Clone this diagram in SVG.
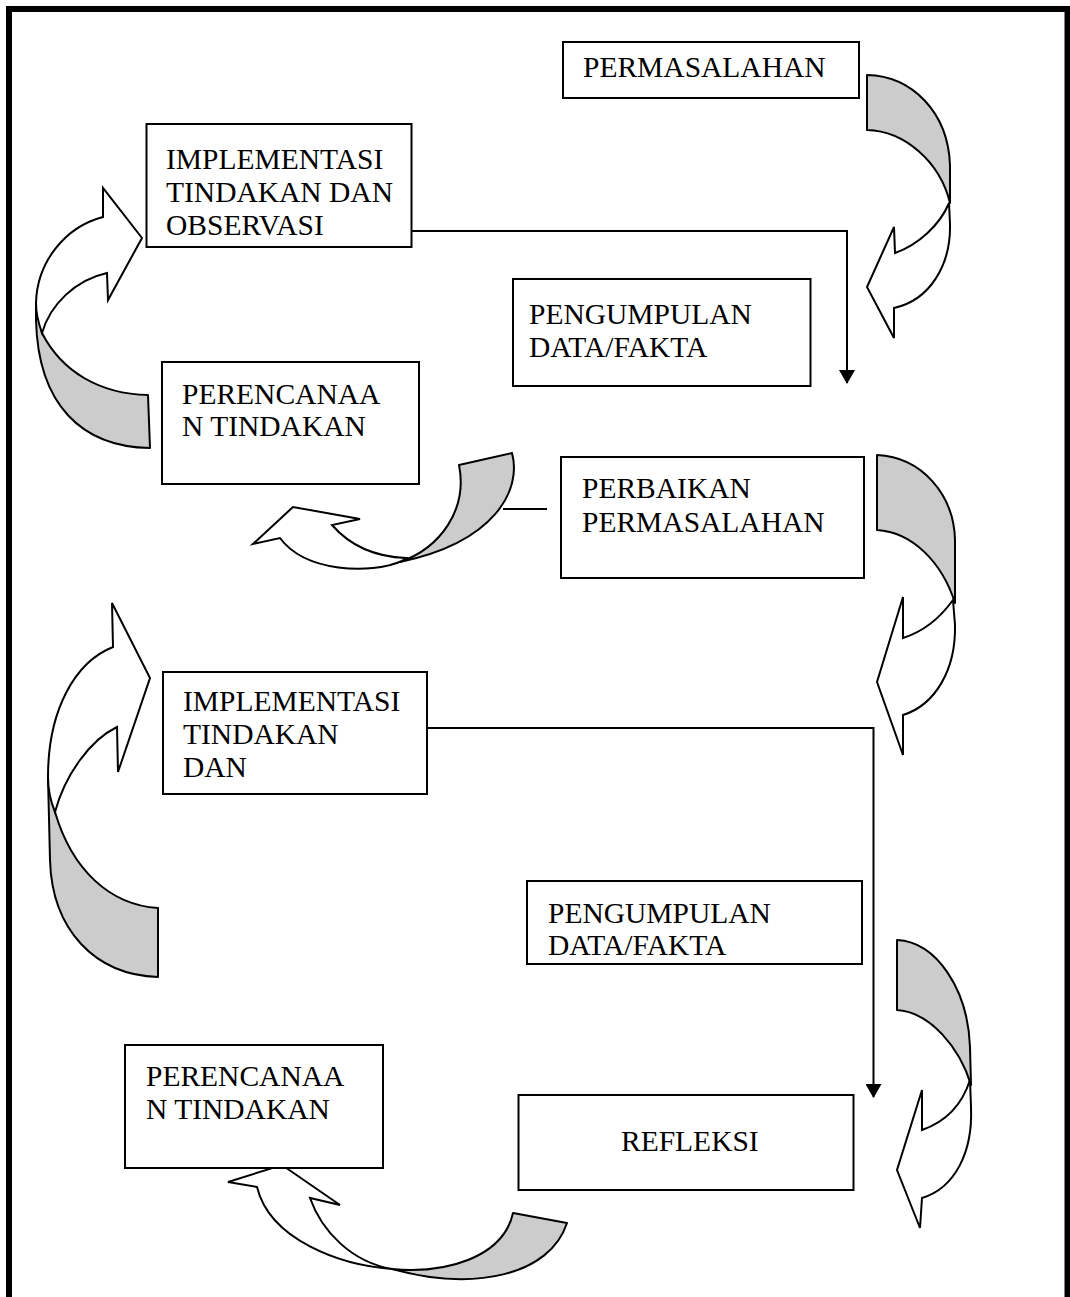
<svg xmlns="http://www.w3.org/2000/svg" width="1070" height="1297" viewBox="0 0 1070 1297">
<style>
.box{fill:#fff;stroke:#000;stroke-width:2}
.t{font-family:"Liberation Serif","Times New Roman",serif;font-size:29.5px;fill:#000}
.con{fill:none;stroke:#000;stroke-width:2}
.back{fill:#cccccc;stroke:#000;stroke-width:2;stroke-linejoin:round}
.front{fill:#fff;stroke:#000;stroke-width:2;stroke-linejoin:miter}
</style>
<defs>
<marker id="arr" markerUnits="userSpaceOnUse" viewBox="0 0 14 16" markerWidth="14" markerHeight="16" refX="13" refY="8" orient="auto">
<path d="M0,0 L14,8 L0,16 Z" fill="#000"/>
</marker>
</defs>
<rect x="0" y="0" width="1070" height="1297" fill="#fff"/>
<rect id="frame" x="9" y="9" width="1058.5" height="1310" fill="none" stroke="#000" stroke-width="6"/>

<g id="connectors">
<path class="con" d="M412,231 H847 V383" marker-end="url(#arr)"/>
<path class="con" d="M427,728 H873.5 V1097" marker-end="url(#arr)"/>
<path class="con" d="M503,509 H547"/>
</g>

<g id="curved-arrows">
<g id="arrowA">
<path class="back" d="M867,75 C912,76 948,112 950,165 L950,203 C940,162 905,131 867,130 Z"/>
<path class="front" d="M949,203 C940,225 918,245 895,253 L894,227 L867,287 L894,338 L894,308 C930,300 951,265 950,224 Z"/>
</g>
<g id="arrowB">
<path class="back" d="M42,333 C62,372 100,394 148,395 L150,448 C82,447 38,405 36,320 L36,303 Z"/>
<path class="front" d="M103,217 L103,188 L142,238 L108,300 L107,273 C75,280 50,305 42,333 C38,322 36,312 36,303 C37,262 65,227 103,217 Z"/>
</g>
<g id="arrowC">
<path class="back" d="M459,465 L512,453 C522,490 495,542 400,562 C440,548 468,510 459,465 Z"/>
<path class="front" d="M402,561 C370,575 305,572 280,538 L253,544 L293,507 L360,519 L332,525 C352,548 380,557 406,558 Z"/>
</g>
<g id="arrowD">
<path class="back" d="M877,455 C922,457 954,495 955,540 L955,603 C942,562 912,532 877,530 Z"/>
<path class="front" d="M953,600 C940,618 922,632 903,638 L903,597 L877,682 L903,755 L903,715 C935,705 956,670 955,625 Z"/>
</g>
<g id="arrowE">
<path class="back" d="M55,812 C72,870 110,905 158,908 L158,977 C95,975 52,930 50,860 L48,777 Z"/>
<path class="front" d="M113,647 L112,603 L150,678 L118,772 L117,727 C90,740 65,775 55,812 C50,800 48,790 48,777 C48,710 75,662 113,647 Z"/>
</g>
<g id="arrowF">
<path class="back" d="M897,940 C937,942 968,990 970,1047 L971,1085 C960,1048 930,1012 897,1010 Z"/>
<path class="front" d="M970,1080 C962,1105 945,1122 922,1130 L922,1090 L897,1170 L920,1228 L922,1198 C955,1188 973,1152 971,1107 Z"/>
</g>
<g id="arrowG">
<path class="back" d="M392,1269 C445,1274 503,1258 513,1213 L567,1223 C550,1275 475,1292 392,1269 Z"/>
<path class="front" d="M257,1187 L228,1182 L282,1165 L340,1205 L310,1198 C322,1232 352,1262 392,1269 C340,1265 270,1240 257,1187 Z"/>
</g>
</g>

<g id="n-permasalahan">
<rect class="box" x="563" y="42" width="296" height="56"/>
<text class="t" x="583" y="77">PERMASALAHAN</text>
</g>
<g id="n-implementasi1">
<rect class="box" x="146.5" y="124" width="265" height="123"/>
<text class="t"><tspan x="166" y="169">IMPLEMENTASI</tspan><tspan x="166" y="202">TINDAKAN DAN</tspan><tspan x="166" y="235">OBSERVASI</tspan></text>
</g>
<g id="n-pengumpulan1">
<rect class="box" x="513" y="279" width="297.5" height="107"/>
<text class="t"><tspan x="529" y="324">PENGUMPULAN</tspan><tspan x="529" y="357">DATA/FAKTA</tspan></text>
</g>
<g id="n-perencanaan1">
<rect class="box" x="162" y="362" width="257" height="122"/>
<text class="t"><tspan x="182" y="404">PERENCANAA</tspan><tspan x="182" y="436">N TINDAKAN</tspan></text>
</g>
<g id="n-perbaikan">
<rect class="box" x="561" y="457" width="303" height="121"/>
<text class="t"><tspan x="582" y="498">PERBAIKAN</tspan><tspan x="582" y="532">PERMASALAHAN</tspan></text>
</g>
<g id="n-implementasi2">
<rect class="box" x="163" y="672" width="264" height="122"/>
<text class="t"><tspan x="183" y="711">IMPLEMENTASI</tspan><tspan x="183" y="744">TINDAKAN</tspan><tspan x="183" y="777">DAN</tspan></text>
</g>
<g id="n-pengumpulan2">
<rect class="box" x="527" y="881" width="335" height="83"/>
<text class="t"><tspan x="548" y="923">PENGUMPULAN</tspan><tspan x="548" y="955">DATA/FAKTA</tspan></text>
</g>
<g id="n-perencanaan2">
<rect class="box" x="125" y="1045" width="258" height="123"/>
<text class="t"><tspan x="146" y="1086">PERENCANAA</tspan><tspan x="146" y="1119">N TINDAKAN</tspan></text>
</g>
<g id="n-refleksi">
<rect class="box" x="518.5" y="1095" width="335" height="95"/>
<text class="t" x="621" y="1151">REFLEKSI</text>
</g>
</svg>
